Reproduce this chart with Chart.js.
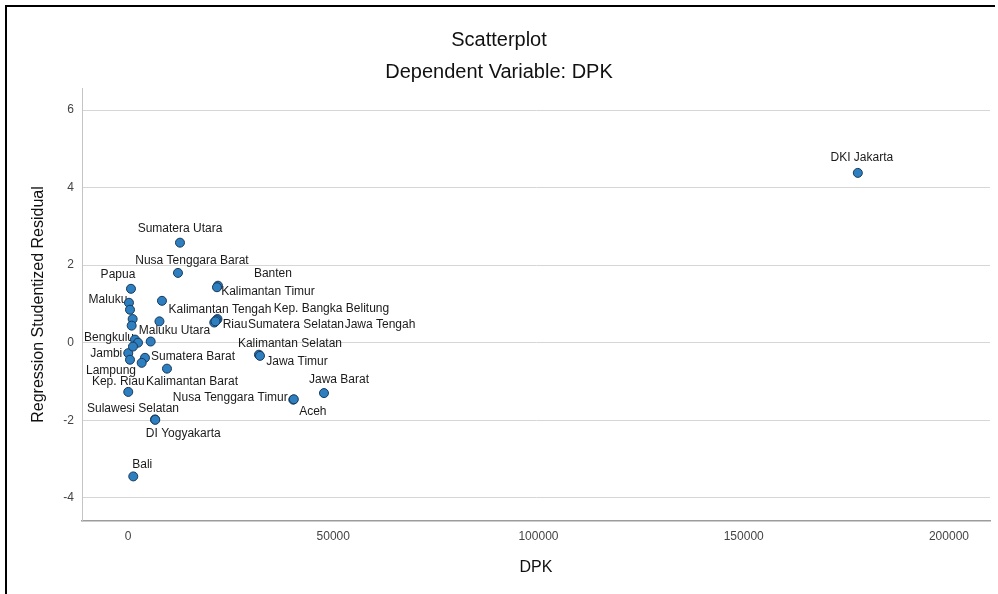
<!DOCTYPE html>
<html>
<head>
<meta charset="utf-8">
<title>Scatterplot</title>
<script src="https://cdn.jsdelivr.net/npm/chart.js@4.4.1/dist/chart.umd.min.js"></script>
<style>
    html, body { margin: 0; padding: 0; background: #fff; }
    #wrap { position: relative; width: 998px; height: 594px; }
    #frame {
        position: absolute; left: 5px; top: 5px; width: 988px; height: 589px;
        border-left: 2px solid #000; border-top: 2px solid #000;
        pointer-events: none;
    }
</style>
</head>
<body>
<div id="wrap">
    <canvas id="scatter" width="998" height="594"></canvas>
    <div id="frame"></div>
</div>
<script>
const provinces = [
    'DKI Jakarta', 'Sumatera Utara', 'Nusa Tenggara Barat', 'Papua', 'Banten',
    'Kalimantan Timur', 'Maluku', 'Kalimantan Tengah', 'Kep. Bangka Belitung', 'Riau',
    'Sumatera Selatan', 'Jawa Tengah', 'Maluku Utara', 'Bengkulu', 'Kalimantan Selatan',
    'Jambi', 'Sumatera Barat', 'Jawa Timur', 'Lampung', 'Kep. Riau',
    'Kalimantan Barat', 'Jawa Barat', 'Nusa Tenggara Timur', 'Aceh', 'Sulawesi Selatan',
    'DI Yogyakarta', 'Bali', '', '', '', '', '', '', ''
];
const dpk = [
    177800, 12670, 12180, 730, 21920,
    21680, 240, 8280, 21800, 21560,
    21020, 21320, 7670, 1710, 31910,
    70, 4140, 32160, 490, 70,
    9500, 47750, 40270, 40400, 6580,
    6650, 1290, 490, 1140, 900, 2440, 5530, 3340, 1220
];
const studentizedResidual = [
    4.38, 2.58, 1.80, 1.39, 1.47,
    1.43, 1.03, 1.08, 0.61, 0.58,
    0.52, 0.55, 0.55, 0.08, -0.31,
    -0.27, -0.39, -0.34, -0.44, -1.27,
    -0.67, -1.30, -1.47, -1.46, -1.98,
    -1.99, -3.45, 0.85, 0.61, 0.44, 0.00, 0.03, -0.52, -0.10
];
const xTicks = [0, 50000, 100000, 150000, 200000];
const yTicks = [-4, -2, 0, 2, 4, 6];

// where each point label sits relative to its marker (px)
const labelOffsets = [
    [4, -15], [0, -14], [14, -12], [-13, -14], [55, -12],
    [51, 4.5], [-21, -3], [58, 9], [114, -10.5], [18.5, 4.5],
    [81.7, 2.3], [164.5, 3.5], [15, 9], [-26, -2], [31, -11],
    [-22, 1], [48, -1], [37, 6], [-19, 11], [-10, -10],
    [25, 13], [15, -13], [-63, -2], [19, 12], [-22, -11],
    [28, 14], [9, -12]
];

const FONT = "'Liberation Sans', Arial, sans-serif";

const points = dpk.map((x, i) => ({ x: x, y: studentizedResidual[i] }));

// labels go under the markers so overlapping dots cover the text
const pointLabels = {
    id: 'pointLabels',
    beforeDatasetsDraw(chart) {
        const ctx = chart.ctx;
        const meta = chart.getDatasetMeta(0);
        ctx.save();
        ctx.font = '12px ' + FONT;
        ctx.fillStyle = '#1a1a1a';
        ctx.textAlign = 'center';
        ctx.textBaseline = 'middle';
        meta.data.forEach((pt, i) => {
            const name = provinces[i];
            if (!name || !labelOffsets[i]) return;
            ctx.fillText(name, pt.x + labelOffsets[i][0], pt.y + labelOffsets[i][1]);
        });
        ctx.restore();
    }
};

new Chart(document.getElementById('scatter'), {
    type: 'scatter',
    data: {
        datasets: [{
            label: 'DPK',
            data: points,
            pointRadius: 4.5,
            pointHoverRadius: 4.5,
            borderWidth: 1,
            backgroundColor: '#2e7fc0',
            borderColor: '#17385a'
        }]
    },
    plugins: [pointLabels],
    options: {
        responsive: false,
        animation: false,
        devicePixelRatio: 1,
        layout: { padding: { left: 8, right: 8, top: 0, bottom: 0 } },
        plugins: {
            legend: { display: false },
            tooltip: { enabled: false },
            title: {
                display: true,
                text: 'Scatterplot',
                color: '#111',
                font: { family: FONT, size: 20, weight: 'normal' },
                padding: { top: 28, bottom: 0 }
            },
            subtitle: {
                display: true,
                text: 'Dependent Variable: DPK',
                color: '#111',
                font: { family: FONT, size: 20, weight: 'normal' },
                padding: { top: 8, bottom: 4 }
            }
        },
        scales: {
            x: {
                type: 'linear',
                min: -11200,
                max: 210000,
                afterBuildTicks: scale => { scale.ticks = xTicks.map(v => ({ value: v })); },
                afterFit: scale => { scale.height = 73; },
                ticks: {
                    color: '#444',
                    font: { family: FONT, size: 12 },
                    padding: 8,
                    maxRotation: 0,
                    callback: v => String(v)
                },
                grid: { drawOnChartArea: false, drawTicks: false },
                border: { display: true, color: '#9c9c9c', width: 1.5 },
                title: {
                    display: true,
                    text: 'DPK',
                    color: '#111',
                    font: { family: FONT, size: 16 },
                    padding: { top: 0, bottom: 16.4 }
                }
            },
            y: {
                type: 'linear',
                min: -4.6,
                max: 6.57,
                afterBuildTicks: scale => { scale.ticks = yTicks.map(v => ({ value: v })); },
                afterFit: scale => { scale.width = 74; },
                ticks: {
                    color: '#444',
                    font: { family: FONT, size: 12 },
                    padding: 8,
                    callback: v => String(v)
                },
                grid: { color: '#d6d6d6', lineWidth: 1, drawTicks: false },
                border: { display: true, color: '#c4c4c4', width: 1 },
                title: {
                    display: true,
                    text: 'Regression Studentized Residual',
                    color: '#111',
                    font: { family: FONT, size: 16 },
                    padding: { top: 21, bottom: 0 }
                }
            }
        }
    }
});
</script>
</body>
</html>
